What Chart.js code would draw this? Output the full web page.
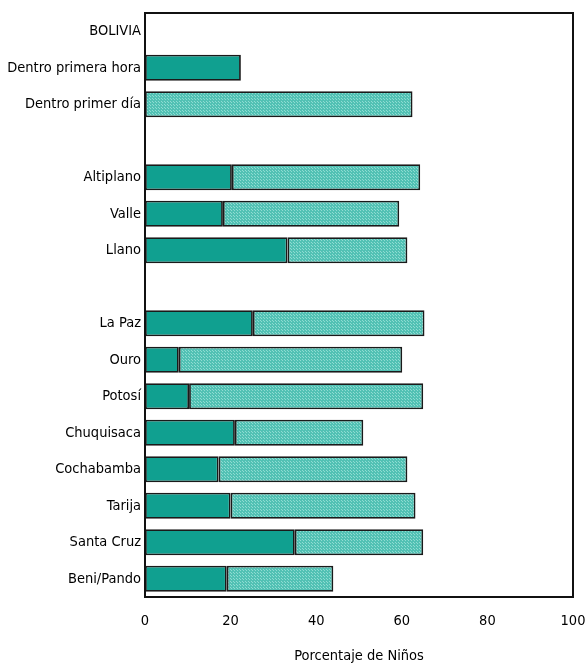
<!DOCTYPE html>
<html>
<head>
<meta charset="utf-8">
<script src="https://cdn.jsdelivr.net/npm/chart.js@4"></script>
<style>
  html, body { margin: 0; padding: 0; background: #fff; }
  #wrap { width: 585px; height: 665px; }
</style>
</head>
<body>
<div id="wrap"><canvas id="myChart" width="585" height="665"></canvas></div>
<script>
// datos
const categories = ['BOLIVIA', 'Dentro primera hora', 'Dentro primer día', '',
    'Altiplano', 'Valle', 'Llano', '',
    'La Paz', 'Ouro', 'Potosí', 'Chuquisaca', 'Cochabamba', 'Tarija', 'Santa Cruz', 'Beni/Pando'];
const firstHour = [null, 22.4, null, null, 20.3, 18.2, 33.3, null, 25.2, 7.9, 10.3, 21.0, 17.2, 20.0, 35.0, 19.1];
const firstDay = [null, null, 62.5, null, 44.0, 41.2, 28.0, null, 40.1, 52.2, 54.7, 30.0, 44.1, 43.2, 30.0, 24.9];
const xTicks = [0, 20, 40, 60, 80, 100];

const font = "'DejaVu Sans Condensed', 'Liberation Sans Narrow', Arial, sans-serif";

// trama punteada para la segunda serie
function stipple() {
    const c = document.createElement('canvas');
    c.width = 3; c.height = 3;
    const g = c.getContext('2d');
    g.fillStyle = '#52c1b4';
    g.fillRect(0, 0, 3, 3);
    g.fillStyle = '#8fdcd2';
    g.fillRect(0, 0, 1, 1);
    g.fillRect(2, 2, 1, 1);
    return g.createPattern(c, 'repeat');
}

const frame = {
    id: 'frame',
    afterDraw(chart) {
        const a = chart.chartArea, ctx = chart.ctx;
        ctx.save();
        ctx.strokeStyle = '#111';
        ctx.lineWidth = 2;
        ctx.strokeRect(a.left, a.top, a.right - a.left, a.bottom - a.top);
        ctx.restore();
    }
};

window.onload = () => {
    const ctx = document.getElementById('myChart');
    new Chart(ctx, {
        type: 'bar',
        data: {
            labels: categories,
            datasets: [{
                label: 'Dentro primera hora',
                data: firstHour,
                backgroundColor: '#10a090',
                borderColor: '#1a1a1a',
                borderWidth: 1.8,
                borderSkipped: false,
                barPercentage: 0.71,
                categoryPercentage: 1
            }, {
                label: 'Dentro primer día',
                data: firstDay,
                backgroundColor: stipple(),
                borderColor: '#1a1a1a',
                borderWidth: 1.8,
                borderSkipped: false,
                barPercentage: 0.71,
                categoryPercentage: 1
            }]
        },
        options: {
            indexAxis: 'y',
            responsive: false,
            animation: false,
            layout: { padding: { top: 13, right: 12, left: 0, bottom: 0 } },
            plugins: { legend: { display: false }, tooltip: { enabled: false } },
            scales: {
                x: {
                    stacked: true,
                    min: 0, max: 100,
                    afterBuildTicks: axis => { axis.ticks = xTicks.map(v => ({ value: v })) },
                    afterFit: axis => {
                        axis.height = 68
                        axis.paddingLeft = 0
                        axis.paddingRight = 0
                    },
                    grid: { display: false, drawTicks: false },
                    border: { display: false },
                    ticks: { color: '#000', padding: 16, font: { family: font, size: 14.5 } },
                    title: {
                        display: true,
                        text: 'Porcentaje de Niños',
                        color: '#000',
                        padding: { top: 11, bottom: 0 },
                        font: { family: font, size: 14.5 }
                    }
                },
                y: {
                    stacked: true,
                    afterFit: axis => { axis.width = 145 },
                    grid: { display: false, drawTicks: false },
                    border: { display: false },
                    ticks: { color: '#000', padding: 4, autoSkip: false, font: { family: font, size: 14.5 } }
                }
            }
        },
        plugins: [frame]
    });
}
</script>
</body>
</html>
